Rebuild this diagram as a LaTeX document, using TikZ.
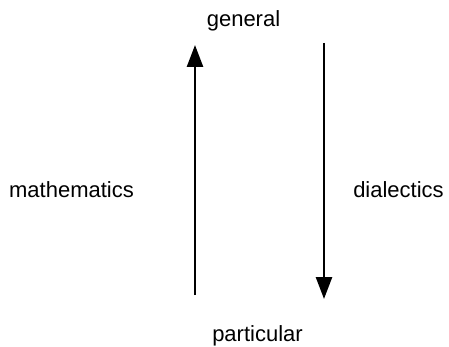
\documentclass[tikz,border=0pt]{standalone}
\usepackage{fontspec}
\setmainfont{Liberation Sans}
\usetikzlibrary{arrows.meta}
\begin{document}
\begin{tikzpicture}[x=1pt,y=-1pt,
  lbl/.style={anchor=base,inner sep=0pt,font=\fontsize{22}{24}\selectfont},
  arr/.style={line width=2.6pt,-{Triangle[length=22pt,width=16pt]}}]
\useasboundingbox (0,0) rectangle (449,347);
\node[lbl] (gen) at (243.5,27) {general};
\node[lbl] (par) at (257.5,341) {particular};
\node[lbl] (math) at (71.5,198) {mathematics};
\node[lbl] (dia) at (398.5,198) {dialectics};
\coordinate (ua) at (195,295);
\coordinate (ub) at (195,45);
\coordinate (da) at (324,43);
\coordinate (db) at (324,299);
\draw[arr] (ua) -- (ub);
\draw[arr] (da) -- (db);
\end{tikzpicture}
\end{document}
